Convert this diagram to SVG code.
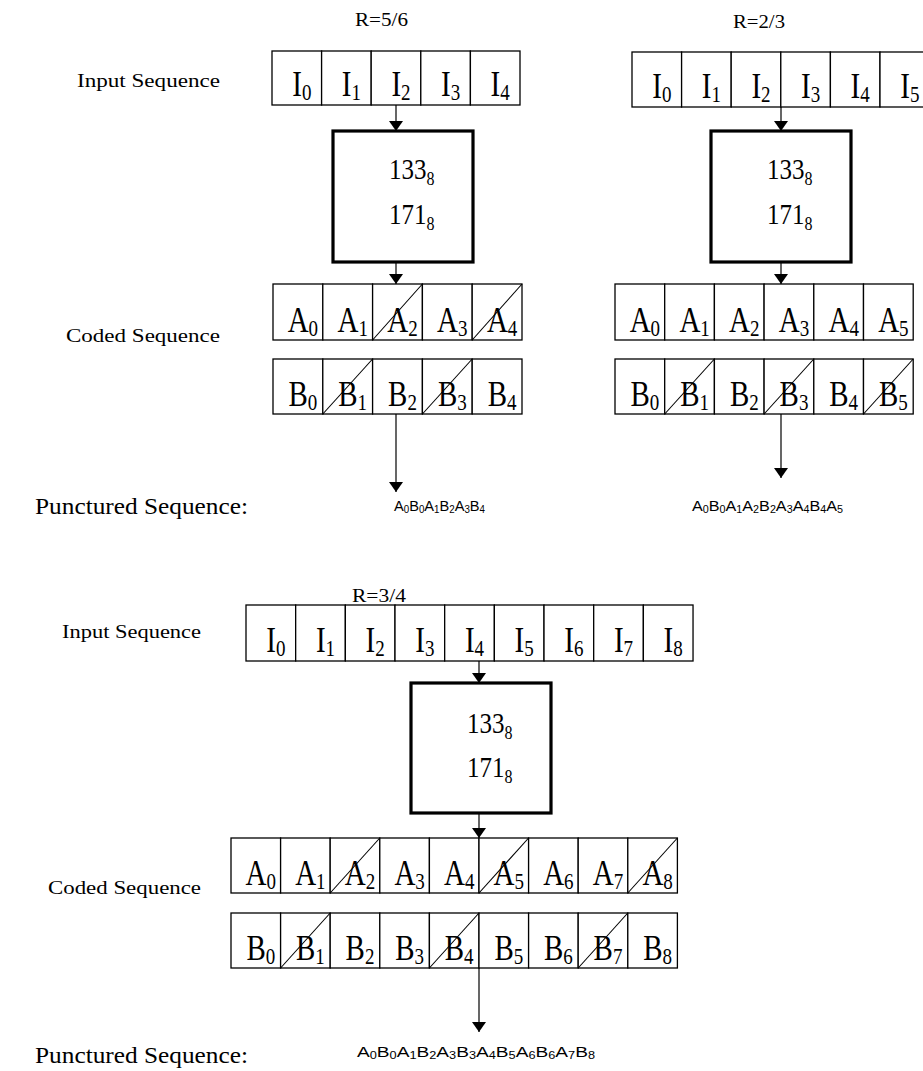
<svg xmlns="http://www.w3.org/2000/svg" width="923" height="1071" viewBox="0 0 923 1071">
<style>
.cell{fill:#fff;stroke:#000;stroke-width:1.3}
.slash{stroke:#000;stroke-width:1.1}
.box{fill:#fff;stroke:#000;stroke-width:3.2}
.ct{font-family:"Liberation Serif",serif;font-size:29px;text-anchor:middle;fill:#000}
.sub{font-size:19px}
.poly{font-family:"Liberation Serif",serif;font-size:25px;fill:#000}
.psub{font-size:16px}
.lbl{font-family:"Liberation Serif",serif;font-size:19px;fill:#000}
.big{font-family:"Liberation Serif",serif;font-size:23px;fill:#000}
.rate{font-family:"Liberation Serif",serif;font-size:19px;fill:#000}
.seq{font-family:"Liberation Sans",Arial,sans-serif;font-size:15px;fill:#000}
.ss{font-size:10px}
.conn{stroke:#000;stroke-width:1.2;fill:none}
</style>
<defs>
<marker id="ah" viewBox="0 0 10 14" refX="10" refY="7" markerWidth="10" markerHeight="14" markerUnits="userSpaceOnUse" orient="auto">
<path d="M0,0 L10,7 L0,14 Z" fill="#000"/>
</marker>
</defs>
<rect width="923" height="1071" fill="#fff"/>

<!-- connectors -->
<g id="connectors">
<line class="conn" x1="396" y1="105" x2="396" y2="131" marker-end="url(#ah)"/>
<line class="conn" x1="396" y1="262" x2="396" y2="284" marker-end="url(#ah)"/>
<line class="conn" x1="396" y1="414" x2="396" y2="492" stroke="#555" marker-end="url(#ah)"/>
<line class="conn" x1="781" y1="107" x2="781" y2="131" marker-end="url(#ah)"/>
<line class="conn" x1="781" y1="262" x2="781" y2="284" marker-end="url(#ah)"/>
<line class="conn" x1="781" y1="414" x2="781" y2="478" marker-end="url(#ah)"/>
<line class="conn" x1="479" y1="661" x2="479" y2="683" marker-end="url(#ah)"/>
<line class="conn" x1="479" y1="813" x2="479" y2="838" marker-end="url(#ah)"/>
<line class="conn" x1="479" y1="968" x2="479" y2="1032" marker-end="url(#ah)"/>
</g>

<!-- R=5/6 -->
<g id="in56">
<rect class="cell" x="272" y="51" width="49.6" height="54"/>
<rect class="cell" x="321.6" y="51" width="49.6" height="54"/>
<rect class="cell" x="371.2" y="51" width="49.6" height="54"/>
<rect class="cell" x="420.8" y="51" width="49.6" height="54"/>
<rect class="cell" x="470.4" y="51" width="49.6" height="54"/>
<text class="ct" transform="translate(301.8 96) scale(1 1.2)">I<tspan class="sub" dy="3">0</tspan></text>
<text class="ct" transform="translate(351.4 96) scale(1 1.2)">I<tspan class="sub" dy="3">1</tspan></text>
<text class="ct" transform="translate(401 96) scale(1 1.2)">I<tspan class="sub" dy="3">2</tspan></text>
<text class="ct" transform="translate(450.6 96) scale(1 1.2)">I<tspan class="sub" dy="3">3</tspan></text>
<text class="ct" transform="translate(500.2 96) scale(1 1.2)">I<tspan class="sub" dy="3">4</tspan></text>
</g>
<g id="enc56">
<rect class="box" x="333" y="131" width="140" height="131"/>
<text class="poly" transform="translate(389 179) scale(1 1.15)">133<tspan class="psub" dy="5">8</tspan></text>
<text class="poly" transform="translate(389 224) scale(1 1.15)">171<tspan class="psub" dy="5">8</tspan></text>
</g>
<g id="a56">
<rect class="cell" x="273" y="284" width="49.8" height="56"/>
<rect class="cell" x="322.8" y="284" width="49.8" height="56"/>
<rect class="cell" x="372.6" y="284" width="49.8" height="56"/>
<rect class="cell" x="422.4" y="284" width="49.8" height="56"/>
<rect class="cell" x="472.2" y="284" width="49.8" height="56"/>
<line class="slash" x1="372.6" y1="340" x2="422.4" y2="284"/>
<line class="slash" x1="472.2" y1="340" x2="522" y2="284"/>
<text class="ct" transform="translate(302.9 332) scale(1 1.2)">A<tspan class="sub" dy="3">0</tspan></text>
<text class="ct" transform="translate(352.7 332) scale(1 1.2)">A<tspan class="sub" dy="3">1</tspan></text>
<text class="ct" transform="translate(402.5 332) scale(1 1.2)">A<tspan class="sub" dy="3">2</tspan></text>
<text class="ct" transform="translate(452.3 332) scale(1 1.2)">A<tspan class="sub" dy="3">3</tspan></text>
<text class="ct" transform="translate(502.1 332) scale(1 1.2)">A<tspan class="sub" dy="3">4</tspan></text>
</g>
<g id="b56">
<rect class="cell" x="273" y="359" width="49.8" height="55"/>
<rect class="cell" x="322.8" y="359" width="49.8" height="55"/>
<rect class="cell" x="372.6" y="359" width="49.8" height="55"/>
<rect class="cell" x="422.4" y="359" width="49.8" height="55"/>
<rect class="cell" x="472.2" y="359" width="49.8" height="55"/>
<line class="slash" x1="322.8" y1="414" x2="372.6" y2="359"/>
<line class="slash" x1="422.4" y1="414" x2="472.2" y2="359"/>
<text class="ct" transform="translate(302.9 406) scale(1 1.2)">B<tspan class="sub" dy="3">0</tspan></text>
<text class="ct" transform="translate(352.7 406) scale(1 1.2)">B<tspan class="sub" dy="3">1</tspan></text>
<text class="ct" transform="translate(402.5 406) scale(1 1.2)">B<tspan class="sub" dy="3">2</tspan></text>
<text class="ct" transform="translate(452.3 406) scale(1 1.2)">B<tspan class="sub" dy="3">3</tspan></text>
<text class="ct" transform="translate(502.1 406) scale(1 1.2)">B<tspan class="sub" dy="3">4</tspan></text>
</g>
<g id="p56">
<text class="seq" x="394" y="511" textLength="91" lengthAdjust="spacingAndGlyphs">A<tspan class="ss" dy="2">0</tspan><tspan dy="-2">B</tspan><tspan class="ss" dy="2">0</tspan><tspan dy="-2">A</tspan><tspan class="ss" dy="2">1</tspan><tspan dy="-2">B</tspan><tspan class="ss" dy="2">2</tspan><tspan dy="-2">A</tspan><tspan class="ss" dy="2">3</tspan><tspan dy="-2">B</tspan><tspan class="ss" dy="2">4</tspan></text>
</g>

<!-- R=2/3 -->
<g id="in23">
<rect class="cell" x="632" y="52" width="49.6" height="55"/>
<rect class="cell" x="681.6" y="52" width="49.6" height="55"/>
<rect class="cell" x="731.2" y="52" width="49.6" height="55"/>
<rect class="cell" x="780.8" y="52" width="49.6" height="55"/>
<rect class="cell" x="830.4" y="52" width="49.6" height="55"/>
<rect class="cell" x="880" y="52" width="49.6" height="55"/>
<text class="ct" transform="translate(661.8 98) scale(1 1.2)">I<tspan class="sub" dy="3">0</tspan></text>
<text class="ct" transform="translate(711.4 98) scale(1 1.2)">I<tspan class="sub" dy="3">1</tspan></text>
<text class="ct" transform="translate(761 98) scale(1 1.2)">I<tspan class="sub" dy="3">2</tspan></text>
<text class="ct" transform="translate(810.6 98) scale(1 1.2)">I<tspan class="sub" dy="3">3</tspan></text>
<text class="ct" transform="translate(860.2 98) scale(1 1.2)">I<tspan class="sub" dy="3">4</tspan></text>
<text class="ct" transform="translate(909.8 98) scale(1 1.2)">I<tspan class="sub" dy="3">5</tspan></text>
</g>
<g id="enc23">
<rect class="box" x="711" y="131" width="140" height="131"/>
<text class="poly" transform="translate(767 179) scale(1 1.15)">133<tspan class="psub" dy="5">8</tspan></text>
<text class="poly" transform="translate(767 224) scale(1 1.15)">171<tspan class="psub" dy="5">8</tspan></text>
</g>
<g id="a23">
<rect class="cell" x="615" y="284" width="49.7" height="56"/>
<rect class="cell" x="664.7" y="284" width="49.7" height="56"/>
<rect class="cell" x="714.4" y="284" width="49.7" height="56"/>
<rect class="cell" x="764.1" y="284" width="49.7" height="56"/>
<rect class="cell" x="813.8" y="284" width="49.7" height="56"/>
<rect class="cell" x="863.5" y="284" width="49.7" height="56"/>
<text class="ct" transform="translate(644.9 332) scale(1 1.2)">A<tspan class="sub" dy="3">0</tspan></text>
<text class="ct" transform="translate(694.6 332) scale(1 1.2)">A<tspan class="sub" dy="3">1</tspan></text>
<text class="ct" transform="translate(744.3 332) scale(1 1.2)">A<tspan class="sub" dy="3">2</tspan></text>
<text class="ct" transform="translate(794 332) scale(1 1.2)">A<tspan class="sub" dy="3">3</tspan></text>
<text class="ct" transform="translate(843.7 332) scale(1 1.2)">A<tspan class="sub" dy="3">4</tspan></text>
<text class="ct" transform="translate(893.4 332) scale(1 1.2)">A<tspan class="sub" dy="3">5</tspan></text>
</g>
<g id="b23">
<rect class="cell" x="615" y="359" width="49.7" height="55"/>
<rect class="cell" x="664.7" y="359" width="49.7" height="55"/>
<rect class="cell" x="714.4" y="359" width="49.7" height="55"/>
<rect class="cell" x="764.1" y="359" width="49.7" height="55"/>
<rect class="cell" x="813.8" y="359" width="49.7" height="55"/>
<rect class="cell" x="863.5" y="359" width="49.7" height="55"/>
<line class="slash" x1="664.7" y1="414" x2="714.4" y2="359"/>
<line class="slash" x1="764.1" y1="414" x2="813.8" y2="359"/>
<line class="slash" x1="863.5" y1="414" x2="913.2" y2="359"/>
<text class="ct" transform="translate(644.9 406) scale(1 1.2)">B<tspan class="sub" dy="3">0</tspan></text>
<text class="ct" transform="translate(694.6 406) scale(1 1.2)">B<tspan class="sub" dy="3">1</tspan></text>
<text class="ct" transform="translate(744.3 406) scale(1 1.2)">B<tspan class="sub" dy="3">2</tspan></text>
<text class="ct" transform="translate(794 406) scale(1 1.2)">B<tspan class="sub" dy="3">3</tspan></text>
<text class="ct" transform="translate(843.7 406) scale(1 1.2)">B<tspan class="sub" dy="3">4</tspan></text>
<text class="ct" transform="translate(893.4 406) scale(1 1.2)">B<tspan class="sub" dy="3">5</tspan></text>
</g>
<g id="p23">
<text class="seq" x="692" y="511" textLength="151" lengthAdjust="spacingAndGlyphs">A<tspan class="ss" dy="2">0</tspan><tspan dy="-2">B</tspan><tspan class="ss" dy="2">0</tspan><tspan dy="-2">A</tspan><tspan class="ss" dy="2">1</tspan><tspan dy="-2">A</tspan><tspan class="ss" dy="2">2</tspan><tspan dy="-2">B</tspan><tspan class="ss" dy="2">2</tspan><tspan dy="-2">A</tspan><tspan class="ss" dy="2">3</tspan><tspan dy="-2">A</tspan><tspan class="ss" dy="2">4</tspan><tspan dy="-2">B</tspan><tspan class="ss" dy="2">4</tspan><tspan dy="-2">A</tspan><tspan class="ss" dy="2">5</tspan></text>
</g>

<!-- R=3/4 -->
<g id="in34">
<rect class="cell" x="246" y="605" width="49.67" height="56"/>
<rect class="cell" x="295.67" y="605" width="49.67" height="56"/>
<rect class="cell" x="345.34" y="605" width="49.67" height="56"/>
<rect class="cell" x="395.01" y="605" width="49.67" height="56"/>
<rect class="cell" x="444.68" y="605" width="49.67" height="56"/>
<rect class="cell" x="494.35" y="605" width="49.67" height="56"/>
<rect class="cell" x="544.02" y="605" width="49.67" height="56"/>
<rect class="cell" x="593.69" y="605" width="49.67" height="56"/>
<rect class="cell" x="643.36" y="605" width="49.67" height="56"/>
<text class="ct" transform="translate(275.8 652) scale(1 1.2)">I<tspan class="sub" dy="3">0</tspan></text>
<text class="ct" transform="translate(325.5 652) scale(1 1.2)">I<tspan class="sub" dy="3">1</tspan></text>
<text class="ct" transform="translate(375.2 652) scale(1 1.2)">I<tspan class="sub" dy="3">2</tspan></text>
<text class="ct" transform="translate(424.8 652) scale(1 1.2)">I<tspan class="sub" dy="3">3</tspan></text>
<text class="ct" transform="translate(474.5 652) scale(1 1.2)">I<tspan class="sub" dy="3">4</tspan></text>
<text class="ct" transform="translate(524.2 652) scale(1 1.2)">I<tspan class="sub" dy="3">5</tspan></text>
<text class="ct" transform="translate(573.8 652) scale(1 1.2)">I<tspan class="sub" dy="3">6</tspan></text>
<text class="ct" transform="translate(623.5 652) scale(1 1.2)">I<tspan class="sub" dy="3">7</tspan></text>
<text class="ct" transform="translate(673.2 652) scale(1 1.2)">I<tspan class="sub" dy="3">8</tspan></text>
</g>
<g id="enc34">
<rect class="box" x="411" y="683" width="140" height="130"/>
<text class="poly" transform="translate(467 733) scale(1 1.15)">133<tspan class="psub" dy="5">8</tspan></text>
<text class="poly" transform="translate(467 777) scale(1 1.15)">171<tspan class="psub" dy="5">8</tspan></text>
</g>
<g id="a34">
<rect class="cell" x="231" y="838" width="49.6" height="55"/>
<rect class="cell" x="280.6" y="838" width="49.6" height="55"/>
<rect class="cell" x="330.2" y="838" width="49.6" height="55"/>
<rect class="cell" x="379.8" y="838" width="49.6" height="55"/>
<rect class="cell" x="429.4" y="838" width="49.6" height="55"/>
<rect class="cell" x="479" y="838" width="49.6" height="55"/>
<rect class="cell" x="528.6" y="838" width="49.6" height="55"/>
<rect class="cell" x="578.2" y="838" width="49.6" height="55"/>
<rect class="cell" x="627.8" y="838" width="49.6" height="55"/>
<line class="slash" x1="330.2" y1="893" x2="379.8" y2="838"/>
<line class="slash" x1="479" y1="893" x2="528.6" y2="838"/>
<line class="slash" x1="627.8" y1="893" x2="677.4" y2="838"/>
<text class="ct" transform="translate(260.8 885) scale(1 1.2)">A<tspan class="sub" dy="3">0</tspan></text>
<text class="ct" transform="translate(310.4 885) scale(1 1.2)">A<tspan class="sub" dy="3">1</tspan></text>
<text class="ct" transform="translate(360 885) scale(1 1.2)">A<tspan class="sub" dy="3">2</tspan></text>
<text class="ct" transform="translate(409.6 885) scale(1 1.2)">A<tspan class="sub" dy="3">3</tspan></text>
<text class="ct" transform="translate(459.2 885) scale(1 1.2)">A<tspan class="sub" dy="3">4</tspan></text>
<text class="ct" transform="translate(508.8 885) scale(1 1.2)">A<tspan class="sub" dy="3">5</tspan></text>
<text class="ct" transform="translate(558.4 885) scale(1 1.2)">A<tspan class="sub" dy="3">6</tspan></text>
<text class="ct" transform="translate(608 885) scale(1 1.2)">A<tspan class="sub" dy="3">7</tspan></text>
<text class="ct" transform="translate(657.6 885) scale(1 1.2)">A<tspan class="sub" dy="3">8</tspan></text>
</g>
<g id="b34">
<rect class="cell" x="231" y="913" width="49.6" height="55"/>
<rect class="cell" x="280.6" y="913" width="49.6" height="55"/>
<rect class="cell" x="330.2" y="913" width="49.6" height="55"/>
<rect class="cell" x="379.8" y="913" width="49.6" height="55"/>
<rect class="cell" x="429.4" y="913" width="49.6" height="55"/>
<rect class="cell" x="479" y="913" width="49.6" height="55"/>
<rect class="cell" x="528.6" y="913" width="49.6" height="55"/>
<rect class="cell" x="578.2" y="913" width="49.6" height="55"/>
<rect class="cell" x="627.8" y="913" width="49.6" height="55"/>
<line class="slash" x1="280.6" y1="968" x2="330.2" y2="913"/>
<line class="slash" x1="429.4" y1="968" x2="479" y2="913"/>
<line class="slash" x1="578.2" y1="968" x2="627.8" y2="913"/>
<text class="ct" transform="translate(260.8 960) scale(1 1.2)">B<tspan class="sub" dy="3">0</tspan></text>
<text class="ct" transform="translate(310.4 960) scale(1 1.2)">B<tspan class="sub" dy="3">1</tspan></text>
<text class="ct" transform="translate(360 960) scale(1 1.2)">B<tspan class="sub" dy="3">2</tspan></text>
<text class="ct" transform="translate(409.6 960) scale(1 1.2)">B<tspan class="sub" dy="3">3</tspan></text>
<text class="ct" transform="translate(459.2 960) scale(1 1.2)">B<tspan class="sub" dy="3">4</tspan></text>
<text class="ct" transform="translate(508.8 960) scale(1 1.2)">B<tspan class="sub" dy="3">5</tspan></text>
<text class="ct" transform="translate(558.4 960) scale(1 1.2)">B<tspan class="sub" dy="3">6</tspan></text>
<text class="ct" transform="translate(608 960) scale(1 1.2)">B<tspan class="sub" dy="3">7</tspan></text>
<text class="ct" transform="translate(657.6 960) scale(1 1.2)">B<tspan class="sub" dy="3">8</tspan></text>
</g>
<g id="p34">
<text class="seq" x="357" y="1057" textLength="238" lengthAdjust="spacingAndGlyphs">A<tspan class="ss" dy="2">0</tspan><tspan dy="-2">B</tspan><tspan class="ss" dy="2">0</tspan><tspan dy="-2">A</tspan><tspan class="ss" dy="2">1</tspan><tspan dy="-2">B</tspan><tspan class="ss" dy="2">2</tspan><tspan dy="-2">A</tspan><tspan class="ss" dy="2">3</tspan><tspan dy="-2">B</tspan><tspan class="ss" dy="2">3</tspan><tspan dy="-2">A</tspan><tspan class="ss" dy="2">4</tspan><tspan dy="-2">B</tspan><tspan class="ss" dy="2">5</tspan><tspan dy="-2">A</tspan><tspan class="ss" dy="2">6</tspan><tspan dy="-2">B</tspan><tspan class="ss" dy="2">6</tspan><tspan dy="-2">A</tspan><tspan class="ss" dy="2">7</tspan><tspan dy="-2">B</tspan><tspan class="ss" dy="2">8</tspan></text>
</g>

<!-- labels -->
<g id="labels">
<text class="rate" x="355" y="26" textLength="53" lengthAdjust="spacingAndGlyphs">R=5/6</text>
<text class="rate" x="733" y="28" textLength="52" lengthAdjust="spacingAndGlyphs">R=2/3</text>
<text class="rate" x="352" y="602" textLength="54" lengthAdjust="spacingAndGlyphs">R=3/4</text>
<text class="lbl" x="77" y="87" textLength="143" lengthAdjust="spacingAndGlyphs">Input Sequence</text>
<text class="lbl" x="66" y="342" textLength="154" lengthAdjust="spacingAndGlyphs">Coded Sequence</text>
<text class="big" x="35" y="514" textLength="213" lengthAdjust="spacingAndGlyphs">Punctured Sequence:</text>
<text class="lbl" x="62" y="638" textLength="139" lengthAdjust="spacingAndGlyphs">Input Sequence</text>
<text class="lbl" x="48" y="894" textLength="153" lengthAdjust="spacingAndGlyphs">Coded Sequence</text>
<text class="big" x="35" y="1063" textLength="213" lengthAdjust="spacingAndGlyphs">Punctured Sequence:</text>
</g>
</svg>
